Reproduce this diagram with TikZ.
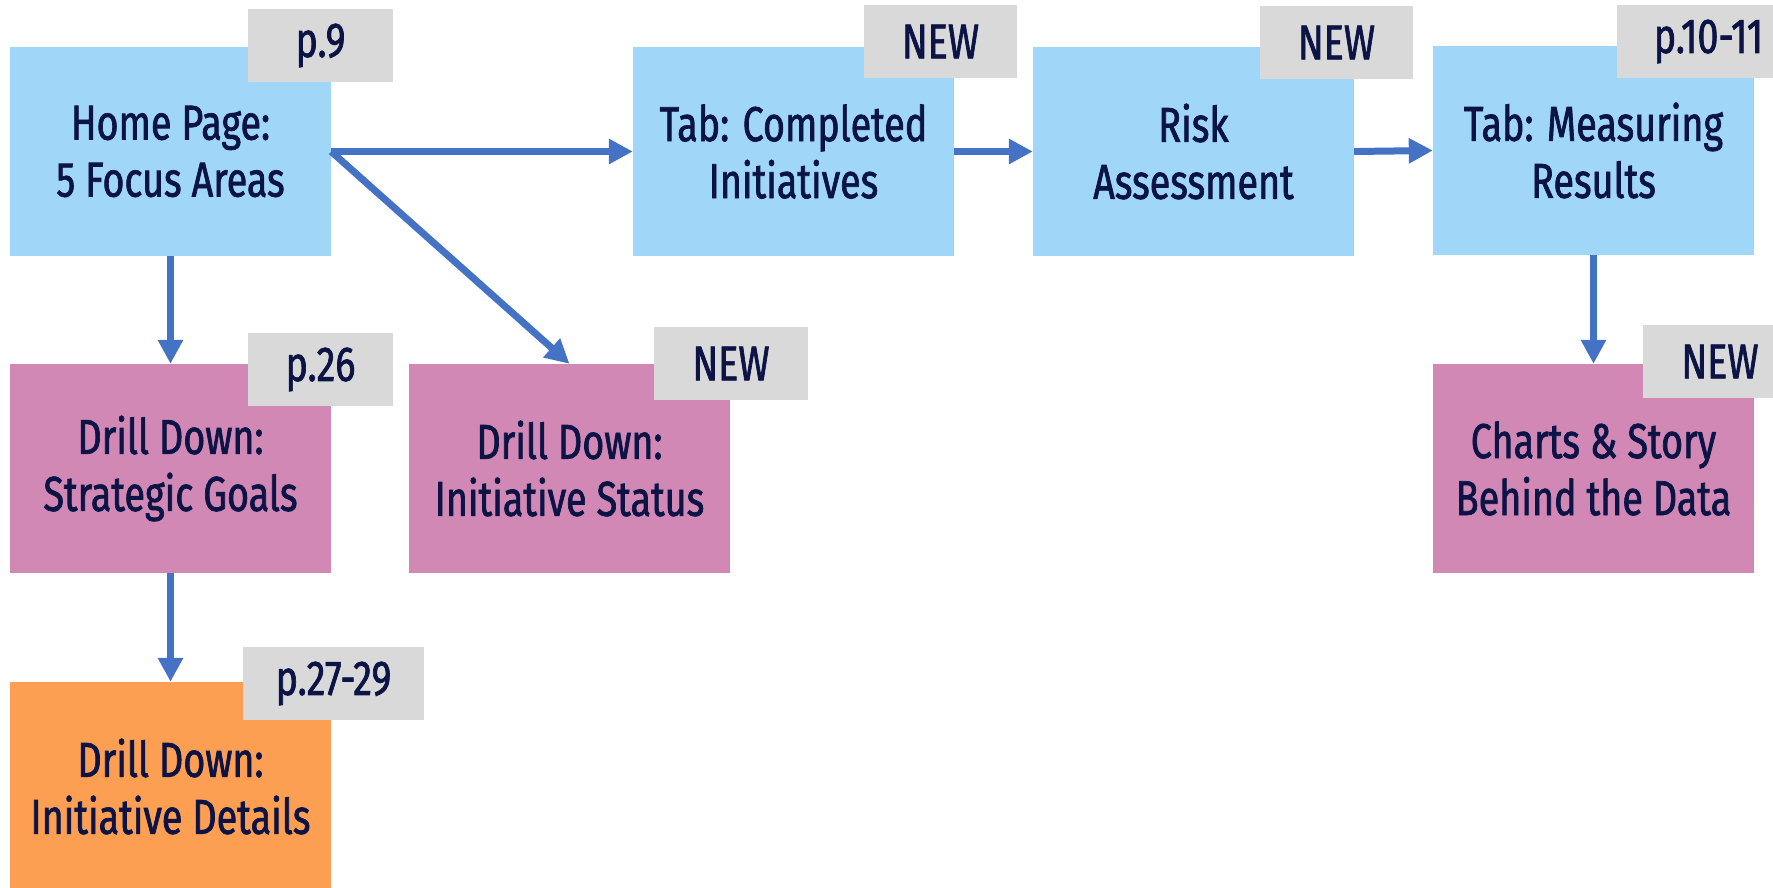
\documentclass[tikz,border=0pt]{standalone}
\usepackage{fontspec}
\setmainfont[FakeStretch=0.77,FakeBold=1.4]{Fira Sans}
\usetikzlibrary{arrows.meta}
\definecolor{boxblue}{HTML}{A0D6F8}
\definecolor{boxpink}{HTML}{D188B4}
\definecolor{boxorange}{HTML}{FD9F52}
\definecolor{taggray}{HTML}{D9D9D9}
\definecolor{txtnavy}{HTML}{0C1445}
\definecolor{arrblue}{HTML}{4472C4}
\tikzset{
  pagebox/.style={rectangle, inner sep=0pt, minimum width=321pt, minimum height=209pt,
    align=center, text=txtnavy, font=\fontsize{49}{57}\selectfont},
  bluebox/.style={pagebox, fill=boxblue},
  pinkbox/.style={pagebox, fill=boxpink},
  orangebox/.style={pagebox, fill=boxorange},
  tagbox/.style={rectangle, inner sep=0pt, fill=taggray, minimum height=73pt,
    text=txtnavy, font=\fontsize{49}{57}\selectfont},
  flow/.style={draw=arrblue, line width=7pt, -{Triangle[length=24pt,width=24pt]}}
}
\begin{document}
\begin{tikzpicture}[x=1pt,y=-1pt]
\useasboundingbox (0,0) rectangle (1773,887);
\clip (0,0) rectangle (1773,887);
% main boxes
\node[bluebox] (home) at (170.5,151.5) {Home Page:\\5 Focus Areas};
\node[bluebox] (comp) at (793.5,151.5) {Tab: Completed\\Initiatives};
\node[bluebox] (risk) at (1193.5,151.5) {Risk\\Assessment};
\node[bluebox] (meas) at (1593.5,150.5) {Tab: Measuring\\Results};
\node[pinkbox] (strat) at (170.5,468.5) {Drill Down:\\Strategic Goals};
\node[pinkbox] (stat) at (569.5,468.5) {Drill Down:\\Initiative Status};
\node[pinkbox] (charts) at (1593.5,468.5) {Charts \& Story\\Behind the Data};
\node[orangebox] (det) at (170.5,786.5) {Drill Down:\\Initiative Details};
% tags
\node[tagbox, minimum width=145pt] (t1) at (320.5,45.5) {p.9};
\node[tagbox, minimum width=153pt] (t2) at (940.5,41.5) {NEW};
\node[tagbox, minimum width=153pt] (t3) at (1336.5,42.5) {NEW};
\node[tagbox, minimum width=183pt] (t4) at (1708.5,41.5) {p.10-11};
\node[tagbox, minimum width=145pt] (t5) at (320.5,369.5) {p.26};
\node[tagbox, minimum width=154pt] (t6) at (731,363.5) {NEW};
\node[tagbox, minimum width=154pt] (t7) at (1720,361.5) {NEW};
\node[tagbox, minimum width=181pt] (t8) at (333.5,683.5) {p.27-29};
% connectors
\draw[flow] (home.east) -- (comp.west);
\draw[flow] (home.east) -- (stat.north);
\draw[flow] (home.south) -- (strat.north);
\draw[flow] (strat.south) -- (det.north);
\draw[flow] (comp.east) -- (risk.west);
\draw[flow] (risk.east) -- (meas.west);
\draw[flow] (meas.south) -- (charts.north);
\end{tikzpicture}
\end{document}
